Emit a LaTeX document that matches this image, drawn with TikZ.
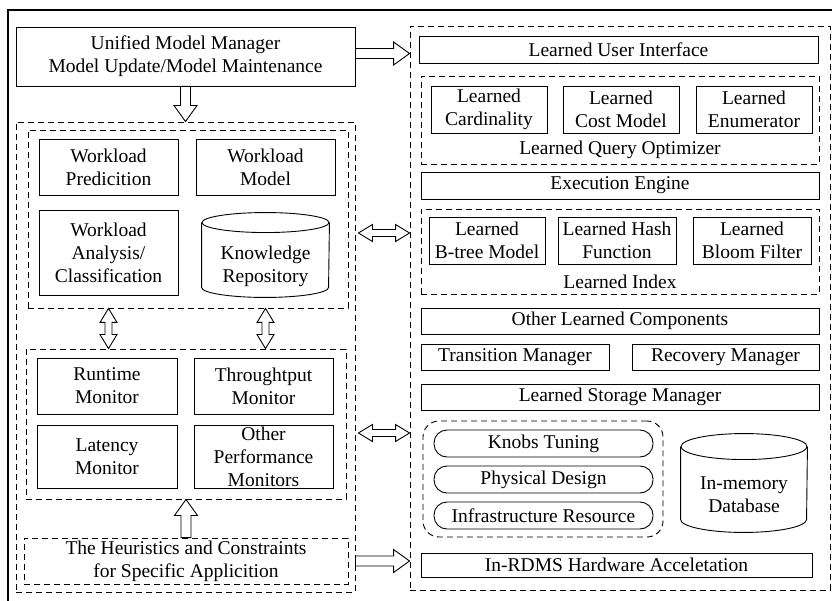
\documentclass[tikz,border=0pt]{standalone}
\usepackage{fontspec}
\setmainfont{Liberation Serif}
\usetikzlibrary{positioning,calc}

\newcommand\lowtext[2]{\raisebox{-#1}[\height][\depth]{\begin{tabular}{@{}c@{}}#2\end{tabular}}}

\tikzset{
  box/.style={draw, line width=0.9pt, align=center, inner sep=1pt,
    font=\fontsize{19.5}{23}\selectfont},
  group/.style={draw, line width=0.9pt, dash pattern=on 6pt off 4pt, inner sep=0pt},
  pill/.style={box, rounded corners=13pt},
  dbtext/.style={box, draw=none},
  lbl/.style={inner sep=1pt, font=\fontsize{19.5}{23}\selectfont},
  % hollow block arrows
  hollow/.style={line width=0.9pt, to path={
    ($(\tikztotarget)!16pt!(\tikztostart)$) coordinate (hn)
    ($(\tikztostart)!5pt!90:(\tikztotarget)$) -- ($(hn)!5pt!90:(\tikztotarget)$)
    -- ($(hn)!11.5pt!90:(\tikztotarget)$) -- (\tikztotarget)
    -- ($(hn)!11.5pt!-90:(\tikztotarget)$) -- ($(hn)!5pt!-90:(\tikztotarget)$)
    -- ($(\tikztostart)!5pt!-90:(\tikztotarget)$) -- cycle}},
  hollowboth/.style={line width=0.9pt, to path={
    ($(\tikztostart)!14pt!(\tikztotarget)$) coordinate (ha)
    ($(\tikztotarget)!14pt!(\tikztostart)$) coordinate (hb)
    (\tikztostart) -- ($(ha)!8.5pt!90:(\tikztotarget)$) -- ($(ha)!3.5pt!90:(\tikztotarget)$)
    -- ($(hb)!3.5pt!90:(\tikztotarget)$) -- ($(hb)!8.5pt!90:(\tikztotarget)$)
    -- (\tikztotarget)
    -- ($(hb)!8.5pt!-90:(\tikztotarget)$) -- ($(hb)!3.5pt!-90:(\tikztotarget)$)
    -- ($(ha)!3.5pt!-90:(\tikztotarget)$) -- ($(ha)!8.5pt!-90:(\tikztotarget)$)
    -- cycle}}
}

\begin{document}
\begin{tikzpicture}[x=1pt, y=-1pt]
  \useasboundingbox (0,0) rectangle (832,601);
  \draw[line width=1.2pt] (8,10) rectangle (850,620);

  % Left part: model manager and monitors
  \node[box, minimum width=339pt, minimum height=59pt] (umm) at (185.5,56.5)
    {Unified Model Manager\\Model Update/Model Maintenance};
  \node[group, minimum width=339pt, minimum height=470pt] (leftbox) at (185.5,357) {};
  \node[group, minimum width=320pt, minimum height=178pt] (wlbox) at (188,219) {};
  \node[box, minimum width=139pt, minimum height=56pt] (wpred) at (108.5,167) {Workload\\Predicition};
  \node[box, minimum width=139pt, minimum height=56pt] (wmodel) at (265.5,167) {Workload\\Model};
  \node[box, minimum width=139pt, minimum height=85pt] (wanal) at (108.5,252.5)
    {Workload\\Analysis/\\Classification};
  \node[dbtext, minimum width=127pt, minimum height=84pt] (krepo) at (265.5,255)
    {\lowtext{11pt}{Knowledge\\Repository}};
  \draw[line width=0.9pt] ([yshift=-10pt]krepo.north) ellipse [x radius=63.5pt, y radius=10pt];
  \draw[line width=0.9pt] ([yshift=-10pt]krepo.north west) -- ([yshift=10pt]krepo.south west)
    arc[start angle=180, end angle=360, x radius=63.5pt, y radius=10pt] -- ([yshift=-10pt]krepo.north east);

  \node[group, minimum width=320pt, minimum height=150pt] (monbox) at (186,424) {};
  \node[box, minimum width=140pt, minimum height=56pt] (runmon) at (107,386) {Runtime\\Monitor};
  \node[box, minimum width=139pt, minimum height=56pt] (thrmon) at (263.5,386) {Throughtput\\Monitor};
  \node[box, minimum width=140pt, minimum height=63pt] (latmon) at (107,456.5) {Latency\\Monitor};
  \node[box, minimum width=139pt, minimum height=63pt] (othmon) at (263.5,456.5)
    {Other\\Performance\\Monitors};
  \node[group, minimum width=324pt, minimum height=46pt, align=center, lbl] (heur) at (186,561)
    {The Heuristics and Constraints\\for Specific Applicition};

  % Right part: learned database components
  \node[group, minimum width=420pt, minimum height=564pt] (rbox) at (620,308) {};
  \node[box, minimum width=399pt, minimum height=27pt] (lui) at (618.5,49.5) {Learned User Interface};
  \node[group, minimum width=398pt, minimum height=88pt] (lqo) at (620,120) {};
  \node[box, minimum width=116pt, minimum height=47pt] (lcard) at (489,109.5) {Learned\\Cardinality};
  \node[box, minimum width=116pt, minimum height=47pt] (lcost) at (621,109.5) {Learned\\Cost Model};
  \node[box, minimum width=116pt, minimum height=47pt] (lenum) at (754,109.5) {Learned\\Enumerator};
  \node[lbl] (lqolbl) at (620,150) {Learned Query Optimizer};
  \node[box, minimum width=398pt, minimum height=27pt] (exec) at (620,185.5) {Execution Engine};
  \node[group, minimum width=398pt, minimum height=85pt] (lidx) at (620,251.5) {};
  \node[box, minimum width=116pt, minimum height=47pt] (lbtree) at (487,240.5) {Learned\\B-tree Model};
  \node[box, minimum width=118pt, minimum height=47pt] (lhash) at (617,240.5) {Learned Hash\\Function};
  \node[box, minimum width=118pt, minimum height=47pt] (lbloom) at (752,240.5) {Learned\\Bloom Filter};
  \node[lbl] (lidxlbl) at (620,282) {Learned Index};
  \node[box, minimum width=398pt, minimum height=26pt] (olc) at (620,321) {Other Learned Components};
  \node[box, minimum width=188pt, minimum height=26pt] (tm) at (515,357) {Transition Manager};
  \node[box, minimum width=187pt, minimum height=26pt] (rm) at (725.5,357) {Recovery Manager};
  \node[box, minimum width=398pt, minimum height=26pt] (lsm) at (620,397) {Learned Storage Manager};
  \node[group, rounded corners=16pt, minimum width=240pt, minimum height=116pt] (tuning) at (543,479) {};
  \node[pill, minimum width=219pt, minimum height=27pt] (knobs) at (543.5,443.5) {Knobs Tuning};
  \node[pill, minimum width=219pt, minimum height=27pt] (physd) at (543.5,479.5) {Physical Design};
  \node[pill, minimum width=219pt, minimum height=27pt] (infra) at (543.5,515.5) {Infrastructure Resource};
  \node[dbtext, minimum width=126pt, minimum height=98pt] (imdb) at (744,483)
    {\lowtext{13pt}{In-memory\\Database}};
  \draw[line width=0.9pt] ([yshift=-13pt]imdb.north) ellipse [x radius=63pt, y radius=13pt];
  \draw[line width=0.9pt] ([yshift=-13pt]imdb.north west) -- ([yshift=13pt]imdb.south west)
    arc[start angle=180, end angle=360, x radius=63pt, y radius=13pt] -- ([yshift=-13pt]imdb.north east);
  \node[box, minimum width=391pt, minimum height=24pt] (hwacc) at (616.5,565) {In-RDMS Hardware Acceletation};

  % Connect parts with block arrows
  \draw[hollow] (umm.south) to (umm.south |- leftbox.north);
  \draw[hollow] ($(umm.east)+(0,-3)$) to ($(umm.east -| rbox.west)+(0,-3)$);
  \draw[hollowboth] ($(leftbox.east |- wlbox.center)+(3,14)$) to ($(rbox.west |- wlbox.center)+(0,14)$);
  \draw[hollowboth] (wlbox.south -| wanal) to (monbox.north -| wanal);
  \draw[hollowboth] (wlbox.south -| krepo) to (monbox.north -| krepo);
  \draw[hollowboth] ($(leftbox.east |- monbox.center)+(3,9)$) to ($(rbox.west |- monbox.center)+(0,9)$);
  \draw[hollow] (heur.north) to (heur.north |- monbox.south);
  \draw[hollow] (heur.east -| leftbox.east) to (heur.east -| rbox.west);
\end{tikzpicture}
\end{document}
